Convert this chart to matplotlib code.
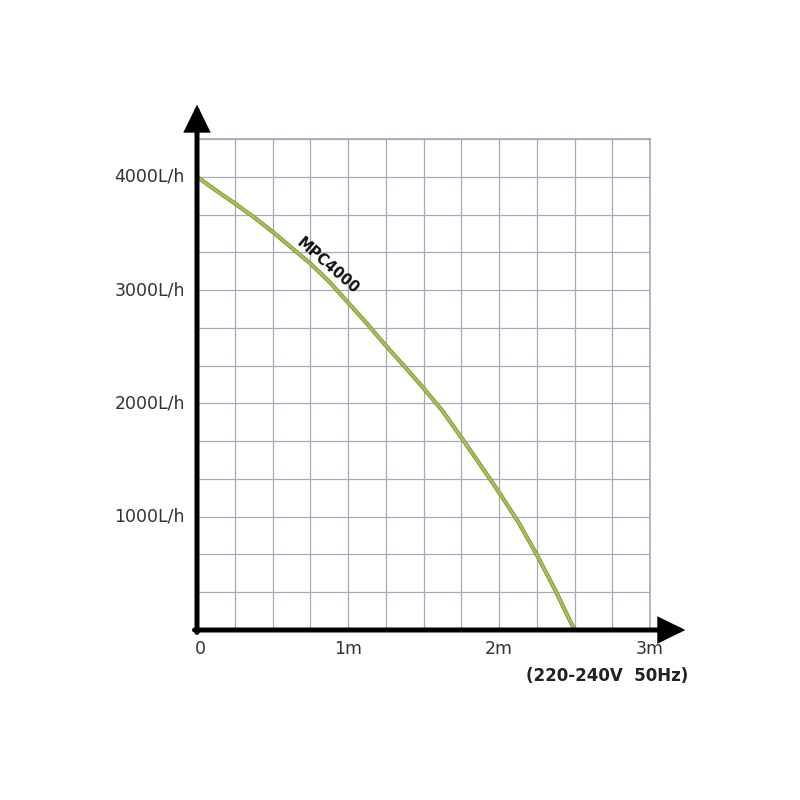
import matplotlib
matplotlib.use("Agg")
import matplotlib.pyplot as plt
import numpy as np

# Data
head_m = [0.0, 0.125, 0.25, 0.375, 0.5, 0.625, 0.75, 0.875, 1.0, 1.125, 1.25,
          1.375, 1.5, 1.625, 1.75, 1.875, 2.0, 2.125, 2.25, 2.375, 2.5]
flow_lh = [4000, 3880, 3765, 3645, 3515, 3375, 3235, 3075, 2890, 2705, 2510,
           2325, 2135, 1935, 1700, 1460, 1215, 960, 665, 345, 0]
series_label = "MPC4000"
y_tick_values = [1000, 2000, 3000, 4000]
y_tick_labels = ["1000L/h", "2000L/h", "3000L/h", "4000L/h"]
x_tick_values = [0, 1, 2, 3]
x_tick_labels = ["0", "1m", "2m", "3m"]
note = "(220-240V  50Hz)"

fig = plt.figure(figsize=(8, 8), dpi=100)
ax = fig.add_axes([197/800, 1-630/800, (650-197)/800, (630-139)/800])
ax.set_xlim(0, 3)
ax.set_ylim(0, 4333.33)

grid_c = "#a7a9bb"
for x in np.arange(0.25, 3.01, 0.25):
    ax.axvline(x, color=grid_c, lw=0.9, zorder=1)
for y in np.arange(1000/3, 4334, 1000/3):
    ax.axhline(y, color=grid_c, lw=0.9, zorder=1)

for s in ["top", "right"]:
    ax.spines[s].set_color(grid_c)
    ax.spines[s].set_linewidth(1.2)
for s in ["left", "bottom"]:
    ax.spines[s].set_visible(False)

ax.set_xticks([])
ax.set_yticks([])

# curve
ax.plot(head_m, flow_lh, color="#7d983a", lw=3.0, zorder=3, solid_joinstyle="round")
ax.plot(head_m, flow_lh, color="#a6c256", lw=1.7, zorder=4, solid_joinstyle="round")

ax.text(0.868, 3215, series_label, rotation=-41, rotation_mode="anchor",
        ha="center", va="center", fontsize=10.5, fontweight="bold", color="#111111", zorder=5)

# axes with arrows
ap = dict(arrowstyle="-|>,head_length=0.55,head_width=0.27", lw=3.6, color="black",
          mutation_scale=26, shrinkA=0, shrinkB=0, joinstyle="miter")
ax.annotate("", xy=(0, 1.070), xytext=(0, -0.005), xycoords="axes fraction",
            textcoords="axes fraction", arrowprops=ap, zorder=6, annotation_clip=False)
ax.annotate("", xy=(1.078, 0), xytext=(-0.0055, 0), xycoords="axes fraction",
            textcoords="axes fraction", arrowprops=ap, zorder=6, annotation_clip=False)

lab_c = "#333333"
for v, t in zip(y_tick_values, y_tick_labels):
    ax.annotate(t, xy=(0, v), xycoords=("axes fraction", "data"), xytext=(-12, 0),
                textcoords="offset pixels", ha="right", va="center", fontsize=12.5, color=lab_c)
for v, t in zip(x_tick_values, x_tick_labels):
    off = 3 if v == 0 else 0
    ax.annotate(t, xy=(v, 0), xycoords=("data", "axes fraction"), xytext=(off, -10),
                textcoords="offset pixels", ha="center", va="top", fontsize=12.5, color=lab_c)

fig.text(688/800, 1-676/800, note, ha="right", va="center", fontsize=12,
         fontweight="bold", color="#222222")

fig.savefig("out.png", dpi=100, facecolor="white")
